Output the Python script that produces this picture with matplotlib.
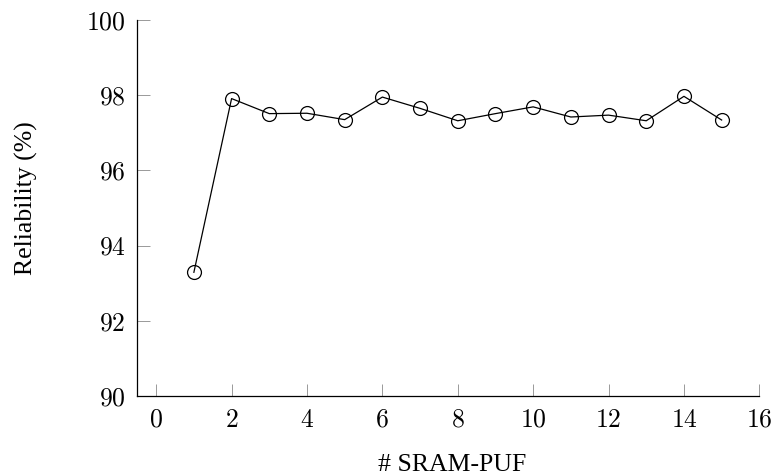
import matplotlib.pyplot as plt

# data
puf_ids = [1, 2, 3, 4, 5, 6, 7, 8, 9, 10, 11, 12, 13, 14, 15]
reliability = [93.29, 97.91, 97.51, 97.52, 97.35, 97.95, 97.65, 97.32,
               97.51, 97.69, 97.42, 97.47, 97.32, 97.97, 97.34]
x_ticks = [0, 2, 4, 6, 8, 10, 12, 14, 16]
y_ticks = [90, 92, 94, 96, 98, 100]

# tick labels in CM (math), axis labels in a Times-like face
plt.rcParams['font.family'] = ['cmr10', 'DejaVu Serif']
plt.rcParams['axes.formatter.use_mathtext'] = True
label_font = ['Liberation Serif', 'DejaVu Serif']

fig = plt.figure(figsize=(7.72, 4.75), dpi=100)
ax = fig.add_axes([0.1779, 0.1663, 0.8057, 0.7916])

ax.plot(puf_ids, reliability, color='black', linewidth=0.9,
        marker='o', markersize=10, markerfacecolor='none',
        markeredgecolor='black', markeredgewidth=0.9)

ax.set_xlim(-0.5, 16)
ax.set_ylim(90, 100)
ax.set_xticks(x_ticks)
ax.set_yticks(y_ticks)
ax.tick_params(direction='in', length=9, width=0.7, color='#999999',
               labelsize=18.5, pad=8.5)

ax.spines['top'].set_visible(False)
ax.spines['right'].set_visible(False)
for s in ('left', 'bottom'):
    ax.spines[s].set_linewidth(0.9)

fig.text(0.5855, 0.0075, '# SRAM-PUF', fontsize=18.5, family=label_font,
         ha='center', va='baseline')
fig.text(0.0427, 0.421, 'Reliability (%)', fontsize=18.5, family=label_font,
         rotation=90, rotation_mode='anchor', ha='left', va='baseline')

fig.savefig('out.png', dpi=100)
